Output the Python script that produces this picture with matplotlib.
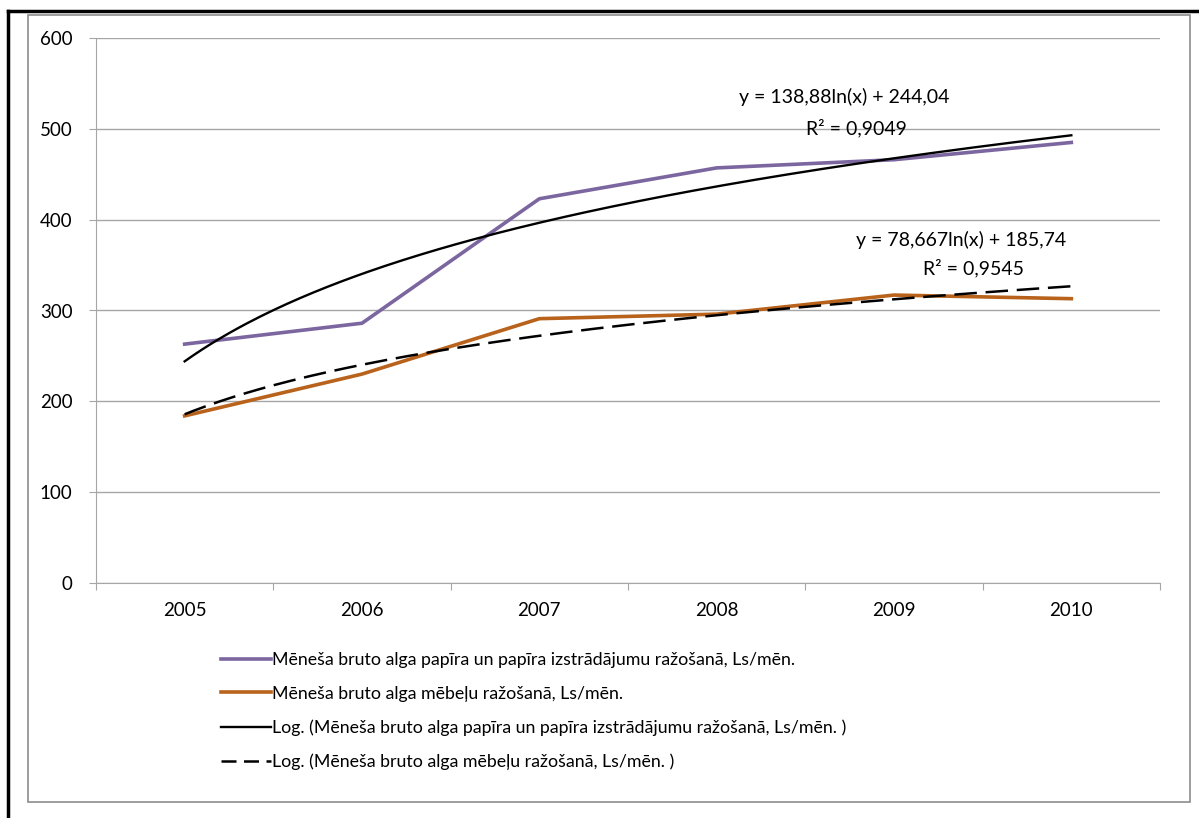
import numpy as np
import matplotlib
matplotlib.use('Agg')
import matplotlib.pyplot as plt
from matplotlib.lines import Line2D
from matplotlib.patches import Rectangle

plt.rcParams['font.family'] = ['Lato', 'DejaVu Sans']

years = ['2005', '2006', '2007', '2008', '2009', '2010']
papirs = [263, 286, 423, 457, 466, 485]
mebeles = [184, 230, 291, 296, 317, 313]

# trendline coefficients as printed on the chart
papirs_a, papirs_b, papirs_r2 = 138.88, 244.04, 0.9049
mebeles_a, mebeles_b, mebeles_r2 = 78.667, 185.74, 0.9545

lbl_papirs = 'Mēneša bruto alga papīra un papīra izstrādājumu ražošanā, Ls/mēn.'
lbl_mebeles = 'Mēneša bruto alga mēbeļu ražošanā, Ls/mēn.'

purple = '#7B66A0'
orange = '#B8621B'
grid_c = '#A6A6A6'
fs = 13

fig = plt.figure(figsize=(11.99, 8.18), dpi=100)
ax = fig.add_axes([96/1199, 1-583/818, (1160-96)/1199, (583-38)/818])

x = np.arange(1, len(years) + 1)
xs = np.linspace(1, len(years), 200)

ax.plot(x, papirs, color=purple, lw=2.6, solid_joinstyle='round', zorder=3)
ax.plot(x, mebeles, color=orange, lw=2.6, solid_joinstyle='round', zorder=3)
ax.plot(xs, papirs_a*np.log(xs) + papirs_b, color='black', lw=1.7, zorder=4)
ax.plot(xs, mebeles_a*np.log(xs) + mebeles_b, color='black', lw=1.8,
        dashes=(9, 3.5), zorder=4)

ax.set_xlim(0.5, 6.5)
ax.set_ylim(0, 600)
ax.set_yticks(range(0, 601, 100))
ax.yaxis.grid(True, color=grid_c, lw=1)
ax.set_axisbelow(True)
ax.set_xticks(np.arange(0.5, 6.6, 1))
ax.set_xticklabels([])
ax.set_xticks(x, minor=True)
ax.set_xticklabels(years, minor=True)
ax.tick_params(axis='x', which='major', length=5, color=grid_c, direction='out')
ax.tick_params(axis='x', which='minor', length=0, pad=14, labelsize=fs + 0.5)
ax.tick_params(axis='y', length=5, color=grid_c, pad=12, labelsize=fs + 0.5)
for s in ['top', 'right']:
    ax.spines[s].set_visible(False)
for s in ['left', 'bottom']:
    ax.spines[s].set_color(grid_c)

eq_fs = fs + 1
ax.text(0.703, 0.892, f'y = {papirs_a:.2f}ln(x) + {papirs_b:.2f}'.replace('.', ','),
        transform=ax.transAxes, ha='center', va='center', fontsize=eq_fs)
ax.text(0.715, 0.835, f'R² = {papirs_r2:.4f}'.replace('.', ','),
        transform=ax.transAxes, ha='center', va='center', fontsize=eq_fs)
ax.text(0.813, 0.629, f'y = {mebeles_a:.3f}ln(x) + {mebeles_b:.2f}'.replace('.', ','),
        transform=ax.transAxes, ha='center', va='center', fontsize=eq_fs)
ax.text(0.825, 0.578, f'R² = {mebeles_r2:.4f}'.replace('.', ','),
        transform=ax.transAxes, ha='center', va='center', fontsize=eq_fs)

handles = [
    Line2D([], [], color=purple, lw=2.6),
    Line2D([], [], color=orange, lw=2.6),
    Line2D([], [], color='black', lw=1.7),
    Line2D([], [], color='black', lw=1.8, dashes=(6, 3)),
]
labels = [lbl_papirs, lbl_mebeles,
          'Log. (' + lbl_papirs + ' )', 'Log. (' + lbl_mebeles + ' )']
fig.legend(handles, labels, loc='upper left', bbox_to_anchor=(212/1199, 1-643/818),
           frameon=False, fontsize=12.8, handlelength=2.8, handletextpad=0.1,
           labelspacing=1.0, borderpad=0)

# chart area frame and outer border
fig.patches.append(Rectangle((28/1199, 1-802/818), (1190-28)/1199, (802-15)/818,
                             transform=fig.transFigure, fill=False,
                             edgecolor='#8C8C8C', lw=1.2))
fig.add_artist(Line2D([8/1199, 8/1199], [0, 1-11/818], transform=fig.transFigure,
                      color='black', lw=2.5))
fig.add_artist(Line2D([8/1199, 1], [1-11/818, 1-11/818], transform=fig.transFigure,
                      color='black', lw=2.5))

fig.savefig('out.png', dpi=100)
